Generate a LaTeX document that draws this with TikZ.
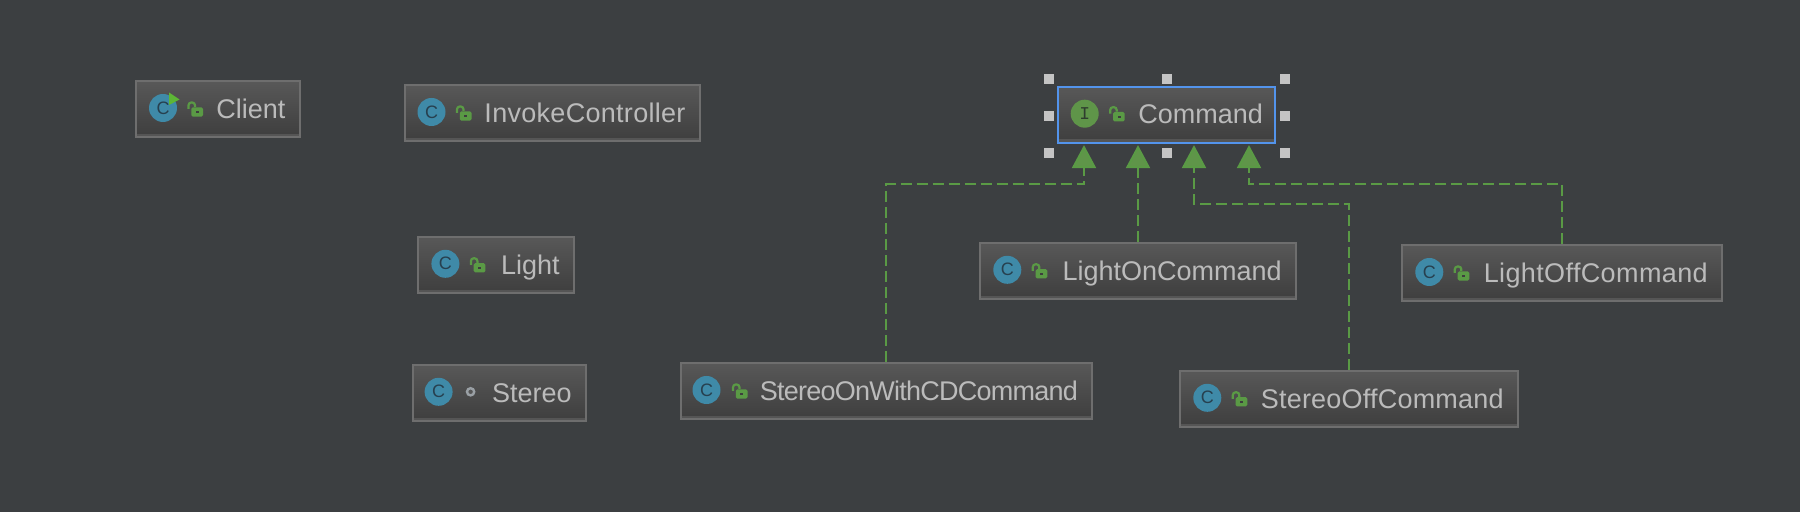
\documentclass[tikz,border=0pt]{standalone}
\usepackage{fontspec}
\setmainfont{Liberation Sans}
\setmonofont{Liberation Mono}
\usetikzlibrary{arrows.meta}

\definecolor{canvasgray}{HTML}{3C3F41}
\definecolor{boxborder}{HTML}{6E6E6E}
\definecolor{boxtop}{HTML}{585858}
\definecolor{boxbottom}{HTML}{3E3E3E}
\definecolor{boxband}{HTML}{555555}
\definecolor{boxtext}{HTML}{BBBBBB}
\definecolor{selectblue}{HTML}{5394EC}
\definecolor{classblue}{HTML}{3F8AA8}
\definecolor{classink}{HTML}{27404F}
\definecolor{ifacegreen}{HTML}{5F9549}
\definecolor{ifaceink}{HTML}{2F3D2F}
\definecolor{lockgreen}{HTML}{5A9A45}
\definecolor{runGreen}{HTML}{5DB636}
\definecolor{handlegray}{HTML}{C4C4C4}
\definecolor{dotgray}{HTML}{9AA0A5}

\begin{document}
\begin{tikzpicture}
  [x=0.5pt, y=-0.5pt,
    umlbox/.style={%
      rectangle, draw=boxborder, line width=1pt,
      top color=boxtop, bottom color=boxbottom,
      minimum height=28pt, inner xsep=7pt, inner ysep=0pt,
      text=boxtext, align=right, text height=12pt, text depth=2.7pt,
      font=\fontsize{13.5pt}{16pt}\selectfont,
      path picture={%
        \fill[boxband] ([yshift=1.6pt]path picture bounding box.south west)
          rectangle (path picture bounding box.south east);
      }
    },
    boxw/.style={text width=#1*0.5pt-15pt},
    badge/.style={%
      circle, minimum size=14pt, inner sep=0pt,
      fill=classblue, text=classink,
      font=\fontsize{9pt}{10pt}\selectfont
    },
    ifacebadge/.style={%
      badge, fill=ifacegreen, text=ifaceink,
      font=\fontsize{9pt}{10pt}\selectfont\ttfamily
    },
    handle/.style={%
      rectangle, fill=handlegray, minimum size=5pt, inner sep=0pt
    },
    pkgdot/.style={%
      circle, draw=dotgray, line width=1.2pt, fill=boxband,
      minimum size=3.6pt, inner sep=0pt
    },
    realize/.style={%
      draw=lockgreen, line width=1.1pt, dash pattern=on 5.5pt off 2.5pt,
      -{Triangle[length=11.5pt,width=12pt,fill=ifacegreen]}, shorten >=0.7pt
    },
    padlock/.pic={%
      \draw[lockgreen, line width=1.1pt, rounded corners=1.4pt]
        (-6.5,0) -- (-6.5,-6.5) -- (0,-6.5) -- (0,-2);
      \fill[lockgreen, rounded corners=0.8pt] (-3.7,-1.7) rectangle (8,7.7);
      \fill[boxbottom] (0.8,2) rectangle (3.8,4);
    },
  ]

  \fill[canvasgray] (0,0) rectangle (1800,512);
  \useasboundingbox (0,0) rectangle (1800,512);

  % class boxes
  \node[umlbox, boxw=165.5] (client) at (217.75,109) {Client};
  \node[umlbox, boxw=297] (invoke) at (552,113) {\addfontfeature{LetterSpace=1.1}InvokeController};
  \node[umlbox, boxw=157.2] (light) at (496,264.8) {Light};
  \node[umlbox, boxw=175] (stereo) at (499.1,392.8) {Stereo};
  \node[umlbox, boxw=413.4] (stereoOn) at (886.2,391) {\addfontfeature{LetterSpace=-2.8}StereoOnWithCDCommand};
  \node[umlbox, boxw=317.4] (lightOn) at (1138,270.8) {LightOnCommand};
  \node[umlbox, boxw=321.4] (lightOff) at (1562,273) {\addfontfeature{LetterSpace=1.4}LightOffCommand};
  \node[umlbox, boxw=339.4] (stereoOff) at (1349,398.8) {\addfontfeature{LetterSpace=0.8}StereoOffCommand};
  \node[umlbox, boxw=223.3, inner xsep=6pt, draw=selectblue] (command) at (1166.35,114.7) {Command};

  % icons
  \node[badge] (clientBadge) at ([shift={(28,-1)}]client.west) {C};
  \fill[runGreen] ([shift={(6,-15.5)}]clientBadge.center) -- ([shift={(16.5,-8.5)}]clientBadge.center)
    -- ([shift={(6,-3)}]clientBadge.center) -- cycle;
  \pic at ([shift={(60,0)}]client.west) {padlock};

  \node[badge] (invokeBadge) at ([shift={(28,-1)}]invoke.west) {C};
  \pic at ([shift={(60,0)}]invoke.west) {padlock};

  \node[badge] (lightBadge) at ([shift={(28,-1)}]light.west) {C};
  \pic at ([shift={(60,0)}]light.west) {padlock};

  \node[badge] (stereoBadge) at ([shift={(27,-1)}]stereo.west) {C};
  \node[pkgdot] (stereoDot) at ([shift={(59,-1)}]stereo.west) {};

  \node[badge] (stereoOnBadge) at ([shift={(27,-1)}]stereoOn.west) {C};
  \pic at ([shift={(60,0)}]stereoOn.west) {padlock};

  \node[badge] (lightOnBadge) at ([shift={(28,-1)}]lightOn.west) {C};
  \pic at ([shift={(60,0)}]lightOn.west) {padlock};

  \node[badge] (lightOffBadge) at ([shift={(28,-1)}]lightOff.west) {C};
  \pic at ([shift={(60,0)}]lightOff.west) {padlock};

  \node[badge] (stereoOffBadge) at ([shift={(28,-1)}]stereoOff.west) {C};
  \pic at ([shift={(60,0)}]stereoOff.west) {padlock};

  \node[ifacebadge] (commandBadge) at ([shift={(28,-1)}]command.west) {I};
  \pic at ([shift={(60,-1)}]command.west) {padlock};

  % selection handles
  \node[handle] (hNW) at ([shift={(-7.4,-7)}]command.north west) {};
  \node[handle] (hN) at ([shift={(1,-7)}]command.north) {};
  \node[handle] (hNE) at ([shift={(9.3,-7)}]command.north east) {};
  \node[handle] (hW) at ([shift={(-7.4,1.3)}]command.west) {};
  \node[handle] (hE) at ([shift={(9.3,1.3)}]command.east) {};
  \node[handle] (hSW) at ([shift={(-7.4,9.7)}]command.south west) {};
  \node[handle] (hS) at ([shift={(1,9.7)}]command.south) {};
  \node[handle] (hSE) at ([shift={(9.3,9.7)}]command.south east) {};

  % ports on the interface box
  \coordinate (port1) at ([xshift=-82.35*0.5pt]command.south);
  \coordinate (port2) at ([xshift=-27.35*0.5pt]command.south);
  \coordinate (port3) at ([xshift=27.65*0.5pt]command.south);
  \coordinate (port4) at ([xshift=82.65*0.5pt]command.south);

  % realizations
  \draw[realize] (stereoOn.north) -- ++(0,-177.6) -| (port1);
  \draw[realize] (lightOn.north) -- (lightOn.north |- port2);
  \draw[realize] (stereoOff.north) -- ++(0,-166) -| (port3);
  \draw[realize] (lightOff.north) -- ++(0,-60) -| (port4);

\end{tikzpicture}
\end{document}
